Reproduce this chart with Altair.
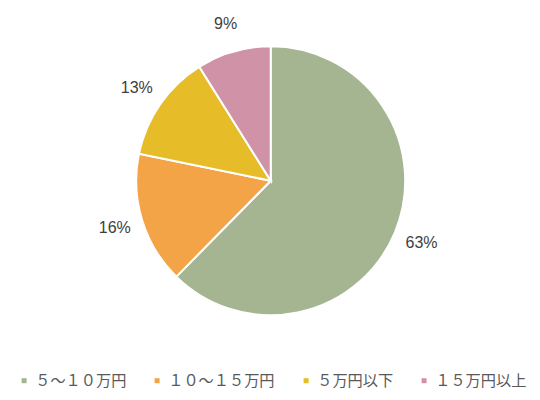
import altair as alt
import pandas as pd

categories = ["５～１０万円", "１０～１５万円", "５万円以下", "１５万円以上"]
values = [63, 16, 13, 9]
colors = ["#A5B592", "#F3A447", "#E7BC29", "#D092A7"]

df = pd.DataFrame({
    "cat": categories,
    "val": values,
    "order": list(range(len(categories))),
    "label": [f"{v}%" for v in values],
})

cx, cy = 262.7, 172.8

base = alt.Chart(df).encode(
    theta=alt.Theta("val:Q", stack=True),
    order=alt.Order("order:Q"),
)

arcs = base.mark_arc(radius=134.5, stroke="white", strokeWidth=2).encode(
    x=alt.value(cx), y=alt.value(cy),
    color=alt.Color(
        "cat:N",
        scale=alt.Scale(domain=categories, range=colors),
        sort=categories,
        legend=alt.Legend(
            title=None, orient="none", direction="horizontal",
            legendX=8.5, legendY=365,
            symbolType="square", symbolSize=25, symbolStrokeWidth=0,
            labelFont="Noto Sans CJK JP", labelFontSize=15.2, labelColor="#595959",
            columnPadding=23, labelOffset=3.5, labelLimit=200,
        ),
    ),
)

labels = base.mark_text(radius=163, font="Liberation Sans", fontSize=16, color="#404040").encode(
    x=alt.value(cx), y=alt.value(cy),
    text="label:N",
)

chart = (arcs + labels).properties(
    width=524, height=384, padding=0, autosize=alt.AutoSizeParams(type="none")
).configure_view(stroke=None)

chart.save("out.html", embed_options={"renderer": "svg", "actions": False})
